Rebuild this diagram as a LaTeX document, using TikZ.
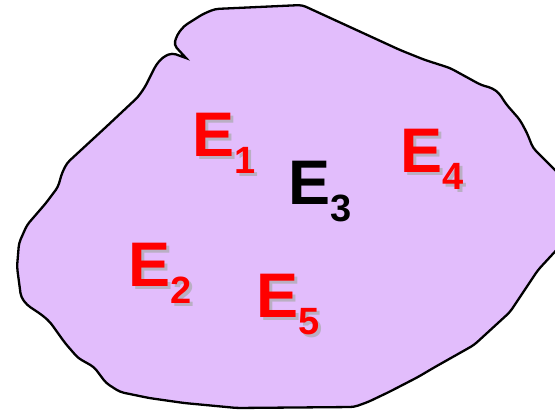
\documentclass[tikz,border=0pt]{standalone}
\usepackage{fontspec}
\setmainfont{Liberation Sans}
\usepackage{tikz}
\definecolor{blobfill}{RGB}{226,189,252}
\definecolor{evred}{RGB}{255,0,0}
\definecolor{evshadow}{RGB}{185,175,195}
\newcommand{\evname}[1]{E\raisebox{-17pt}{\fontsize{38}{38}\selectfont #1}}
\newcommand{\evshadowed}[1]{\rlap{\kern2.5pt\raisebox{-2.5pt}{\color{evshadow}\evname{#1}}}\evname{#1}}

\begin{document}
\begin{tikzpicture}[x=1pt, y=-1pt,
    ev/.style={anchor=base west, inner sep=0pt, font=\fontsize{63}{63}\selectfont\bfseries},
    evr/.style={ev, text=evred}]
    \useasboundingbox (0,0) rectangle (555,411);
    \clip (0,0) rectangle (555,411);
    % the blob
    \draw[line width=2.3pt, fill=blobfill, rounded corners=4pt]
        (215,9) -- (302,5) -- (400,50) -- (425,60) -- (450,68) -- (481,85) -- (492,88)
        -- (499,93) -- (506,104) -- (520,120) -- (527,133) -- (533,148) -- (540,155)
        -- (575,190) -- (575,230) -- (538,270) -- (510,312) -- (474,345) -- (435,367)
        -- (418,377) -- (389,392) -- (368,402) -- (354,407) -- (237,408) -- (184,403)
        -- (149,398) -- (120,392) -- (106,383) -- (94,367) -- (78,358) -- (65,343)
        -- (50,322) -- (42,315) -- (27,305) -- (21,297) -- (17,267) -- (19,243)
        -- (27,225) -- (46,203) -- (58,187) -- (62,173) -- (67,163) -- (106,127)
        -- (138,97) -- (145,87) -- (156,65) -- (163,57) -- (172,53)
        [sharp corners] -- (186,58) [rounded corners=4pt] -- (174,45) -- (177,35)
        -- (184,26) -- (203,14) -- cycle;
    % events
    \coordinate (p1) at (192.5,157);
    \coordinate (p2) at (128.5,287);
    \coordinate (p3) at (288.5,205);
    \coordinate (p4) at (400.5,173);
    \coordinate (p5) at (256.5,318);
    \foreach \i in {1,2,4,5}
        \node[evr] (e\i) at (p\i) {\evshadowed{\i}};
    \node[ev] (e3) at (p3) {\evname{3}};
\end{tikzpicture}
\end{document}
